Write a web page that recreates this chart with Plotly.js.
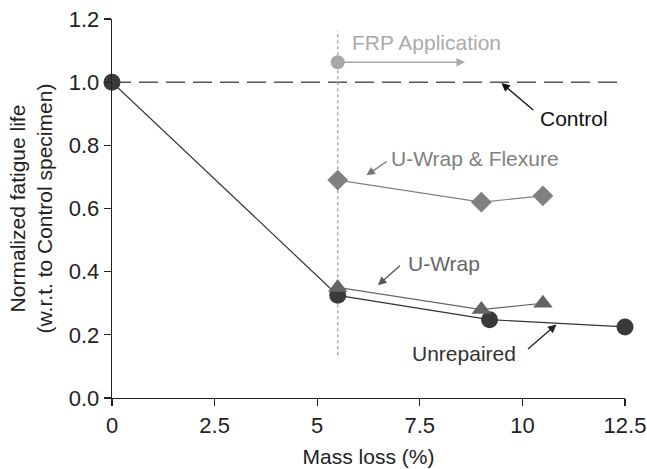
<!DOCTYPE html>
<html>
<head>
<meta charset="utf-8">
<script src="https://cdn.plot.ly/plotly-3.0.1.min.js"></script>
<style>
  html, body { margin: 0; padding: 0; background: #fff; }
  #chart { width: 647px; height: 469px; }
</style>
</head>
<body>
<div id="chart"></div>
<script>
// Mass loss (%) and normalized fatigue life for each specimen group
const unrepairedMass = [0, 5.5, 9.2, 12.5];
const unrepairedLife = [1.0, 0.325, 0.248, 0.225];

const uWrapMass = [5.5, 9.0, 10.5];
const uWrapLife = [0.35, 0.28, 0.30];

const flexureMass = [5.5, 9.0, 10.5];
const flexureLife = [0.69, 0.62, 0.64];

const controlLife = 1.0;
const controlMassRange = [0, 12.5];

// FRP application point and the mass loss at which it is applied
const frpMass = 5.5;
const frpMarkerLife = 1.063;
const frpSpan = [0.135, 1.163];

const xTicks = [0, 2.5, 5, 7.5, 10, 12.5];
const xTickText = ['0', '2.5', '5', '7.5', '10', '12.5'];
const yTicks = [0, 0.2, 0.4, 0.6, 0.8, 1.0, 1.2];

const FONT = '"Liberation Sans", Arial, Helvetica, sans-serif';
const FS = 21;
const TICK_FS = 22;

const traces = [
  {
    x: controlMassRange, y: [controlLife, controlLife],
    mode: 'lines', line: { color: '#555', width: 1.5, dash: '19px,8px' },
    hoverinfo: 'skip'
  },
  {
    x: [frpMass, frpMass], y: frpSpan,
    mode: 'lines', line: { color: '#aaa', width: 1.5, dash: 'dot' },
    hoverinfo: 'skip'
  },
  {
    x: flexureMass, y: flexureLife, name: 'U-Wrap & Flexure',
    mode: 'lines+markers', line: { color: '#808080', width: 1.2 },
    marker: { symbol: 'diamond', size: 16, color: '#808080' }, cliponaxis: false
  },
  {
    x: unrepairedMass, y: unrepairedLife, name: 'Unrepaired',
    mode: 'lines+markers', line: { color: '#333', width: 1.2 },
    marker: { symbol: 'circle', size: 17, color: '#3a3a3a' }, cliponaxis: false
  },
  {
    x: uWrapMass, y: uWrapLife, name: 'U-Wrap',
    mode: 'lines+markers', line: { color: '#666', width: 1.2 },
    marker: { symbol: 'triangle-up', size: 17, color: '#646464' }, cliponaxis: false
  },
  {
    x: [frpMass], y: [frpMarkerLife],
    mode: 'markers', marker: { symbol: 'circle', size: 14, color: '#a8a8a8' },
    hoverinfo: 'skip'
  }
];

function arrow(x, y, ax, ay, color) {
  return {
    x: x, y: y, ax: ax, ay: ay, xref: 'x', yref: 'y', axref: 'x', ayref: 'y',
    text: '', showarrow: true, arrowhead: 2, arrowsize: 1.3, arrowwidth: 1.3,
    arrowcolor: color, standoff: 0, startstandoff: 0
  };
}
function label(x, y, text, color) {
  return {
    x: x, y: y, xref: 'x', yref: 'y', text: text, showarrow: false,
    xanchor: 'left', yanchor: 'middle', font: { family: FONT, size: FS, color: color }
  };
}

const annotations = [
  arrow(8.60, frpMarkerLife, frpMass, frpMarkerLife, '#a8a8a8'),
  label(5.80, 1.127, 'FRP Application', '#aaa'),
  arrow(9.49, 0.997, 10.30, 0.908, '#111'),
  label(10.38, 0.885, 'Control', '#111'),
  arrow(6.20, 0.705, 6.73, 0.752, '#777'),
  label(6.76, 0.758, 'U-Wrap &amp; Flexure', '#808080'),
  arrow(6.48, 0.357, 7.05, 0.423, '#555'),
  label(7.16, 0.426, 'U-Wrap', '#666'),
  arrow(10.83, 0.233, 10.10, 0.151, '#222'),
  label(7.25, 0.141, 'Unrepaired', '#333')
];

const layout = {
  width: 647, height: 469,
  margin: { l: 112, r: 22, t: 19, b: 71 },
  paper_bgcolor: '#fff', plot_bgcolor: '#fff',
  showlegend: false,
  font: { family: FONT, size: FS, color: '#222' },
  xaxis: {
    range: [0, 12.5], tickvals: xTicks, ticktext: xTickText,
    showline: true, linecolor: '#222', linewidth: 1.3,
    ticks: 'outside', ticklen: 7, tickwidth: 1.3, tickcolor: '#222',
    showgrid: false, zeroline: false,
    tickfont: { family: FONT, size: TICK_FS, color: '#222' },
    title: { text: 'Mass loss (%)', font: { family: FONT, size: FS, color: '#222' }, standoff: 12 }
  },
  yaxis: {
    range: [0, 1.2], tickvals: yTicks, tickformat: '.1f',
    showline: true, linecolor: '#222', linewidth: 1.3,
    ticks: 'outside', ticklen: 7, tickwidth: 1.3, tickcolor: '#222',
    showgrid: false, zeroline: false,
    tickfont: { family: FONT, size: TICK_FS, color: '#222' },
    title: { text: 'Normalized fatigue life<br>(w.r.t. to Control specimen)', font: { family: FONT, size: FS, color: '#222' }, standoff: 10 }
  },
  annotations: annotations
};

Plotly.newPlot('chart', traces, layout, { displayModeBar: false, staticPlot: true });
</script>
</body>
</html>
